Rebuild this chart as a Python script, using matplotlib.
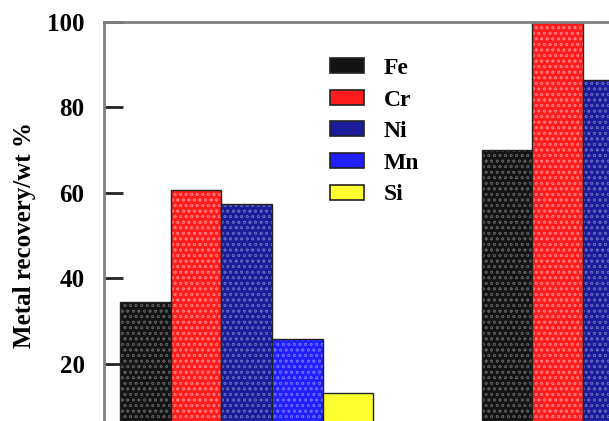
import matplotlib.pyplot as plt
import numpy as np

plt.rcParams['font.family'] = ['Liberation Serif', 'DejaVu Serif']
plt.rcParams['font.weight'] = 'bold'
plt.rcParams['hatch.linewidth'] = 0.5

metals = ['Fe', 'Cr', 'Ni', 'Mn', 'Si']
colors = ['#141414', '#ff1c1c', '#1c1c9a', '#1f1fff', '#ffff30']
hatch_colors = ['#5a5a5a', '#ff7a7a', '#6262c0', '#6a6aff', None]
group1 = [34.4, 60.6, 57.3, 25.7, 13.1]
group2 = [70.0, 99.9, 86.3, 60.0, 20.0]

fig = plt.figure(figsize=(6.09, 4.21), dpi=100)
# axes runs past the right and bottom edge of the figure (cropped figure)
ax = fig.add_axes([104/609, -28/421, 649/609, 427/421])

x1 = np.arange(5)
x2 = np.arange(5) + 7.14
handles = []
for i, m in enumerate(metals):
    for xs, vals in ((x1, group1), (x2, group2)):
        if hatch_colors[i] is not None:
            ax.bar(xs[i], vals[i], width=1.0, color=colors[i],
                   edgecolor=hatch_colors[i], linewidth=0, hatch='ooo')
        else:
            ax.bar(xs[i], vals[i], width=1.0, color=colors[i], linewidth=0)
        ax.bar(xs[i], vals[i], width=1.0, fill=False, edgecolor='#222222', linewidth=1.0)
    h = plt.Rectangle((0, 0), 1, 1, facecolor=colors[i], edgecolor='#222222',
                      linewidth=1.2)
    handles.append(h)

ax.set_xlim(-0.82, 12)
ax.set_ylim(0, 100)
ax.set_yticks([20, 40, 60, 80, 100])
ax.tick_params(axis='y', direction='in', length=14, width=2, color='#222222',
               labelsize=18, pad=14)
ax.set_xticks([])
for s in ax.spines.values():
    s.set_color('#808080')
    s.set_linewidth(2)
ax.set_ylabel('Metal recovery/wt %', fontsize=18, fontweight='bold', labelpad=8)

fig.legend(handles, metals, loc='upper left', bbox_to_anchor=(311/609, 1 - 39/421),
           frameon=False, fontsize=17, handlelength=1.44, handleheight=0.6,
           labelspacing=0.45, handletextpad=0.85, borderpad=0.3)

fig.savefig('out.png', dpi=100)
